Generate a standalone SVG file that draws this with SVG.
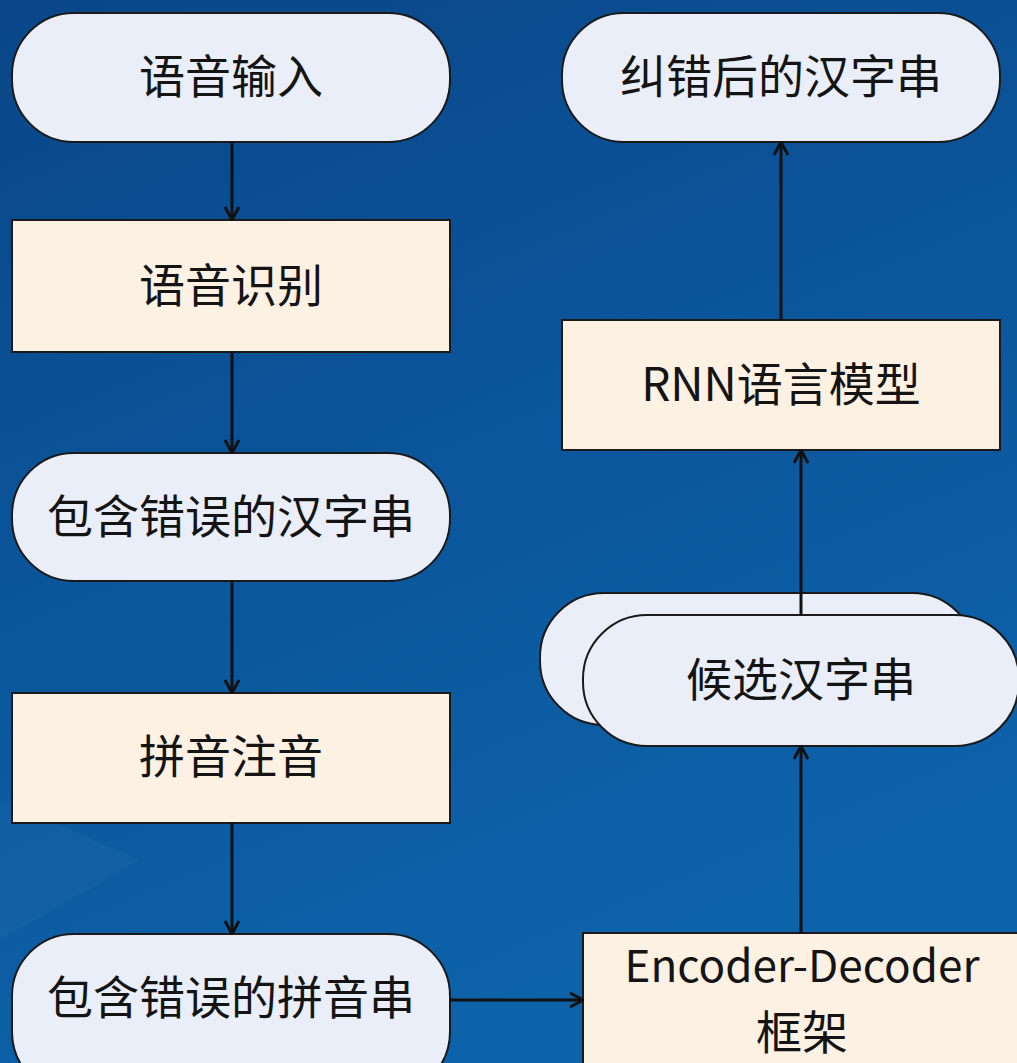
<svg xmlns="http://www.w3.org/2000/svg" width="1017" height="1063" viewBox="0 0 1017 1063">
<defs>
<linearGradient id="bg" x1="0" y1="0" x2="0.4" y2="1">
<stop offset="0" stop-color="#0a4687"/>
<stop offset="0.5" stop-color="#0b559b"/>
<stop offset="1" stop-color="#0d63aa"/>
</linearGradient>
<marker id="arr" viewBox="0 0 16 16" refX="15" refY="8" markerWidth="16" markerHeight="16" markerUnits="userSpaceOnUse" orient="auto">
<path d="M2,1 L15,8 L2,15" fill="none" stroke="#111" stroke-width="3"/>
</marker>
<style>
.pill{fill:#e9eef8;stroke:#1a1a1a;stroke-width:2}
.box{fill:#fdf1e3;stroke:#1a1a1a;stroke-width:2}
.t{font-family:"Noto Sans CJK SC","Noto Sans",sans-serif;font-size:46px;fill:#141414;text-anchor:middle}
.c{stroke:#111;stroke-width:3;fill:none;marker-end:url(#arr)}
</style>
</defs>
<rect width="1017" height="1063" fill="url(#bg)"/>
<polygon points="0,800 140,860 0,940" fill="#ffffff" opacity="0.03"/>
<g id="n1"><rect class="pill" x="12" y="13" width="438" height="129" rx="62"/><text class="t" x="231" y="93">语音输入</text></g>
<g id="n2"><rect class="box" x="12" y="220" width="438" height="132"/><text class="t" x="231" y="302">语音识别</text></g>
<g id="n3"><rect class="pill" x="12" y="453" width="438" height="128" rx="62"/><text class="t" x="231" y="533">包含错误的汉字串</text></g>
<g id="n4"><rect class="box" x="12" y="693" width="438" height="130"/><text class="t" x="231" y="773">拼音注音</text></g>
<g id="n5"><rect class="pill" x="12" y="934" width="438" height="160" rx="62"/><text class="t" x="231" y="1014">包含错误的拼音串</text></g>
<g id="n6"><rect class="pill" x="562" y="13" width="438" height="129" rx="62"/><text class="t" x="781" y="93">纠错后的汉字串</text></g>
<g id="n7"><rect class="box" x="562" y="320" width="438" height="130"/><text class="t" x="781" y="401">RNN语言模型</text></g>
<g id="n8"><rect class="pill" x="540" y="593" width="436" height="132" rx="64"/><rect class="pill" x="583" y="615" width="436" height="131" rx="64"/><text class="t" x="801" y="696">候选汉字串</text></g>
<g id="n9"><rect class="box" x="583" y="933" width="440" height="140"/><text class="t" x="802" y="982" style="font-size:44px">Encoder-Decoder</text><text class="t" x="802" y="1049">框架</text></g>
<g id="connectors">
<line class="c" x1="232" y1="142" x2="232" y2="220"/>
<line class="c" x1="232" y1="352" x2="232" y2="453"/>
<line class="c" x1="232" y1="581" x2="232" y2="693"/>
<line class="c" x1="232" y1="823" x2="232" y2="934"/>
<line class="c" x1="450" y1="1000" x2="583" y2="1000"/>
<line class="c" x1="801" y1="933" x2="801" y2="746"/>
<line class="c" x1="801" y1="615" x2="801" y2="450"/>
<line class="c" x1="781" y1="320" x2="781" y2="142"/>
</g>
</svg>
